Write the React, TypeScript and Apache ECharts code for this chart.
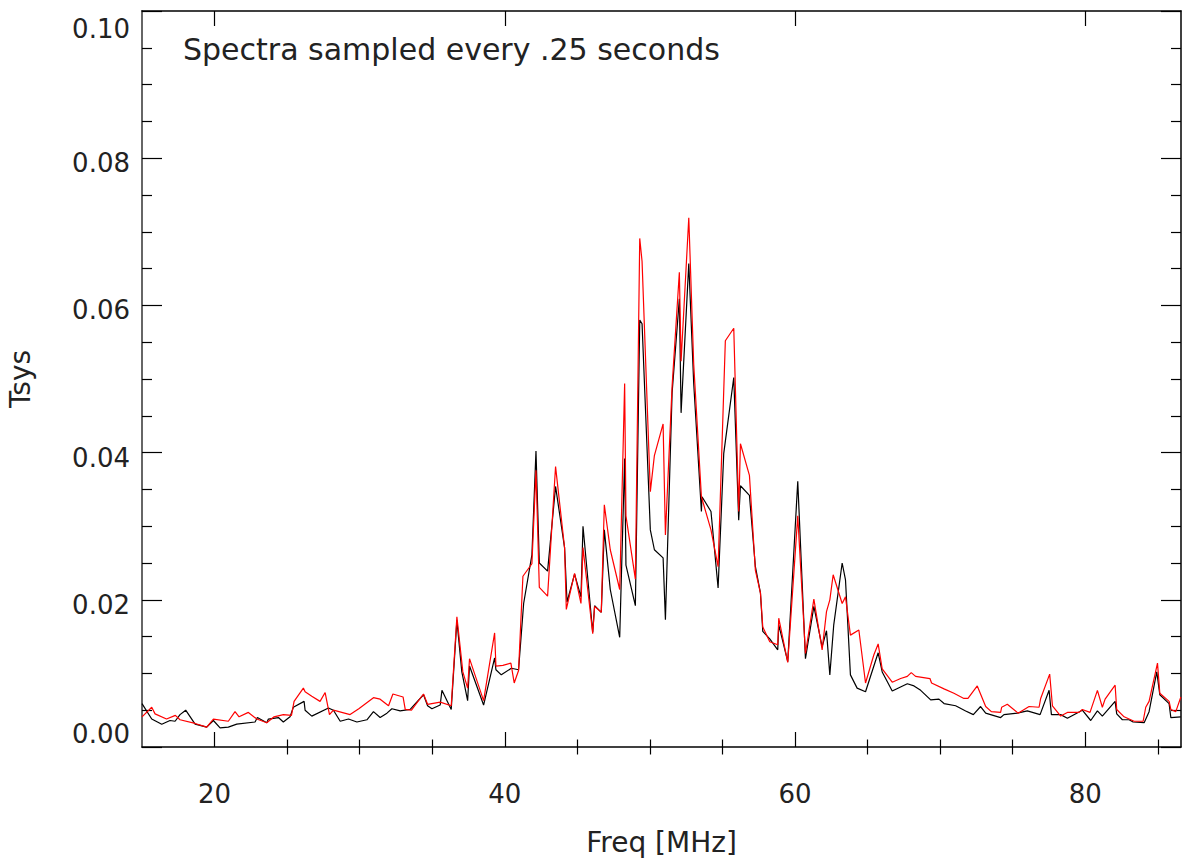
import React, { useEffect, useRef } from "react";
import * as echarts from "echarts";

const FONT = "DejaVu Sans";
const TEXT_COLOR = "#222";

const titleText = "Spectra sampled every .25 seconds";
const xName = "Freq [MHz]";
const yName = "Tsys";

const xMin = 15;
const xMax = 86.6;
const yMin = 0;
const yMax = 0.1;
const yStep = 0.02;
const xMajorTicks = [20, 40, 60, 80];
const xMinorTicks = [25, 30, 35, 45, 50, 55, 65, 70, 75, 85];

const freqBlack = [
  15.0, 15.67, 16.36, 16.93, 17.28, 17.62, 18.01, 18.66, 19.46, 19.92, 20.38, 20.95, 21.53, 22.79, 22.95,
  23.6, 23.71, 24.4, 24.74, 25.2, 25.43, 26.17, 26.24, 26.7, 27.85, 28.19, 28.66, 29.23, 29.81, 30.5,
  30.95, 31.41, 31.88, 32.22, 32.79, 33.48, 34.4, 34.68, 34.98, 35.55, 35.67, 36.31, 36.7, 37.04, 37.44,
  37.57, 38.54, 39.3, 39.39, 39.76, 40.45, 40.95, 41.3, 41.87, 42.15, 42.38, 42.95, 43.5, 44.12, 44.29,
  44.81, 45.25, 45.39, 46.06, 46.19, 46.65, 46.86, 47.27, 47.92, 48.26, 48.35, 49.0, 49.3, 49.46, 50.03,
  50.31, 50.91, 51.07, 51.53, 52.03, 52.15, 52.68, 53.02, 53.55, 53.59, 54.21, 54.7, 55.09, 55.78, 56.12,
  56.24, 56.86, 57.27, 57.62, 57.78, 58.26, 58.81, 58.88, 59.5, 60.19, 60.72, 61.3, 61.87, 62.17, 62.4,
  62.67, 63.25, 63.48, 63.82, 64.28, 64.86, 65.73, 66.01, 66.7, 67.74, 68.2, 68.66, 69.35, 69.92, 70.27,
  71.07, 71.76, 72.29, 72.79, 73.14, 73.48, 74.17, 74.4, 75.32, 76.01, 76.89, 77.51, 77.67, 78.31, 78.77,
  79.8, 80.38, 80.84, 81.18, 82.06, 82.17, 82.56, 83.02, 83.3, 84.06, 84.4, 84.93, 85.14, 85.78, 85.9,
  86.59,
];
const tsysBlack = [
  0.0059, 0.0038, 0.0031, 0.0036, 0.0035, 0.0044, 0.005, 0.0031, 0.0027, 0.0036, 0.0026, 0.0027, 0.0031, 0.0034, 0.004,
  0.0033, 0.0038, 0.004, 0.0034, 0.0041, 0.0054, 0.0062, 0.005, 0.0042, 0.0053, 0.005, 0.0035, 0.0038, 0.0034, 0.0037,
  0.0048, 0.004, 0.0046, 0.0052, 0.0049, 0.0051, 0.0071, 0.0056, 0.0052, 0.0057, 0.0077, 0.0051, 0.0172, 0.0102, 0.0063,
  0.011, 0.0057, 0.0121, 0.0105, 0.0098, 0.0107, 0.0105, 0.0195, 0.0261, 0.0402, 0.025, 0.0239, 0.0354, 0.0271, 0.0197,
  0.0235, 0.0204, 0.03, 0.0156, 0.0192, 0.0183, 0.0295, 0.0214, 0.0149, 0.0392, 0.0247, 0.0192, 0.058, 0.0575, 0.0295,
  0.0268, 0.0257, 0.0173, 0.0481, 0.0609, 0.0454, 0.0657, 0.0494, 0.032, 0.034, 0.032, 0.0216, 0.0399, 0.0502, 0.0308,
  0.0355, 0.0342, 0.0245, 0.0209, 0.0157, 0.0147, 0.0132, 0.0166, 0.0116, 0.0361, 0.012, 0.0191, 0.0136, 0.0158, 0.0098,
  0.0166, 0.025, 0.0227, 0.0098, 0.008, 0.0075, 0.0128, 0.0102, 0.0076, 0.0086, 0.0083, 0.0077, 0.0064, 0.0065, 0.0059,
  0.0056, 0.0049, 0.0044, 0.0055, 0.0046, 0.0044, 0.004, 0.0044, 0.0046, 0.0049, 0.0044, 0.0077, 0.0044, 0.0044, 0.0039,
  0.005, 0.0036, 0.0049, 0.0042, 0.0062, 0.0045, 0.0037, 0.0037, 0.0034, 0.0033, 0.0048, 0.0102, 0.0071, 0.0059, 0.004,
  0.0041,
];

const freqRed = [
  15.0, 15.67, 15.9, 16.69, 17.3, 17.62, 18.66, 19.46, 19.92, 20.95, 21.41, 21.69, 22.33, 22.91, 23.6,
  24.1, 24.74, 25.3, 25.48, 26.12, 26.24, 26.7, 27.27, 27.62, 27.92, 28.19, 29.34, 29.94, 30.95, 31.41,
  31.99, 32.29, 32.99, 33.14, 33.57, 34.4, 34.68, 35.55, 36.31, 36.7, 37.11, 37.44, 37.57, 38.54, 39.3,
  39.39, 39.87, 40.42, 40.65, 40.95, 41.25, 41.87, 42.15, 42.38, 42.95, 43.5, 44.12, 44.24, 44.81, 45.25,
  45.39, 46.06, 46.19, 46.65, 46.86, 47.27, 47.92, 48.26, 48.35, 49.0, 49.3, 49.46, 50.03, 50.31, 50.91,
  51.07, 51.53, 52.03, 52.15, 52.68, 53.02, 53.55, 54.21, 54.7, 55.09, 55.2, 55.78, 56.12, 56.24, 56.86,
  57.27, 57.62, 57.78, 58.26, 58.81, 58.88, 59.5, 60.19, 60.72, 61.3, 61.87, 62.17, 62.4, 62.63, 63.25,
  63.48, 63.82, 64.4, 64.86, 65.43, 65.73, 66.01, 66.7, 67.28, 67.74, 68.01, 68.31, 69.3, 69.41, 70.27,
  70.95, 71.64, 71.92, 72.56, 73.14, 73.53, 74.17, 74.24, 74.63, 75.37, 76.13, 76.82, 76.93, 77.55, 77.74,
  78.31, 78.77, 79.57, 79.8, 80.33, 80.84, 81.18, 81.37, 82.06, 82.17, 82.68, 83.37, 83.99, 84.17, 84.4,
  84.98, 85.14, 85.78, 85.9, 86.24, 86.59,
];
const tsysRed = [
  0.0041, 0.0054, 0.0045, 0.0038, 0.0043, 0.0037, 0.0032, 0.0027, 0.0038, 0.0035, 0.0048, 0.0041, 0.0047, 0.0038, 0.0033,
  0.0041, 0.0044, 0.0043, 0.0062, 0.008, 0.0075, 0.0069, 0.0062, 0.0074, 0.0044, 0.005, 0.0044, 0.0052, 0.0067, 0.0065,
  0.0056, 0.0072, 0.0068, 0.0051, 0.005, 0.0072, 0.0058, 0.0061, 0.0056, 0.0177, 0.0102, 0.008, 0.012, 0.0063, 0.0155,
  0.011, 0.0111, 0.0114, 0.0087, 0.0104, 0.0232, 0.0249, 0.0376, 0.0217, 0.0205, 0.0381, 0.0271, 0.0187, 0.0236, 0.0195,
  0.0271, 0.0154, 0.0191, 0.0183, 0.0329, 0.0268, 0.0214, 0.0494, 0.0314, 0.0228, 0.0691, 0.066, 0.0347, 0.0396, 0.0439,
  0.0288, 0.049, 0.0645, 0.0524, 0.0719, 0.052, 0.034, 0.0295, 0.0245, 0.0485, 0.0552, 0.0569, 0.032, 0.0412, 0.0369,
  0.024, 0.0209, 0.0163, 0.0143, 0.0139, 0.0175, 0.0115, 0.0314, 0.0127, 0.0201, 0.0132, 0.0184, 0.02, 0.0234, 0.0195,
  0.0204, 0.0152, 0.0159, 0.0087, 0.0125, 0.014, 0.0106, 0.0088, 0.0093, 0.0096, 0.0101, 0.0096, 0.0093, 0.0087, 0.0079,
  0.0073, 0.0066, 0.0066, 0.0083, 0.0055, 0.0048, 0.0047, 0.0054, 0.0058, 0.0046, 0.0055, 0.0054, 0.0066, 0.0099, 0.0056,
  0.0042, 0.0047, 0.0047, 0.0051, 0.0047, 0.0077, 0.0054, 0.0065, 0.0084, 0.0051, 0.0041, 0.0035, 0.0035, 0.0054, 0.0062,
  0.0114, 0.0073, 0.0062, 0.0051, 0.0048, 0.0068,
];

const baseX = {
  type: "value" as const,
  min: xMin,
  max: xMax,
  interval: 5,
  splitLine: { show: false },
  minorTick: { show: false },
};

const baseY = {
  type: "value" as const,
  min: yMin,
  max: yMax,
  interval: yStep,
  splitLine: { show: false },
};

const labelText = { fontFamily: FONT, fontSize: 26, color: TEXT_COLOR };

export default function App() {
  const ref = useRef<HTMLDivElement>(null);

  useEffect(() => {
    if (!ref.current) return;
    const chart = echarts.init(ref.current, null, { renderer: "svg" });
    const option: any = {
      animation: false,
      backgroundColor: "#ffffff",
      title: {
        text: titleText,
        left: 183,
        top: 34,
        padding: 0,
        textStyle: { fontFamily: FONT, fontSize: 30, fontWeight: "normal", color: TEXT_COLOR },
      },
      grid: { left: 142, right: 2, top: 11, bottom: 114, containLabel: false, outerBoundsMode: "none" },
      xAxis: [
        {
          ...baseX,
          position: "bottom",
          axisLine: { show: true, onZero: false, lineStyle: { color: "#000", width: 1.5 } },
          axisTick: {
            show: true,
            inside: true,
            length: 15,
            customValues: xMajorTicks,
            lineStyle: { color: "#000", width: 1.2 },
          },
          axisLabel: {
            show: true,
            customValues: xMajorTicks,
            ...labelText,
            margin: 34,
          },
          name: xName,
          nameLocation: "middle",
          nameGap: 81,
          nameTextStyle: { fontFamily: FONT, fontSize: 28, color: TEXT_COLOR },
        },
        {
          ...baseX,
          position: "bottom",
          axisLine: { show: false },
          axisTick: {
            show: true,
            inside: true,
            length: 7.5,
            customValues: xMinorTicks,
            lineStyle: { color: "#000", width: 1.2 },
          },
          axisLabel: { show: false },
        },
        {
          ...baseX,
          position: "top",
          axisLine: { show: true, onZero: false, lineStyle: { color: "#000", width: 1.5 } },
          axisTick: {
            show: true,
            inside: true,
            length: 15,
            customValues: xMajorTicks,
            lineStyle: { color: "#000", width: 1.2 },
          },
          axisLabel: { show: false },
        },
        {
          ...baseX,
          position: "top",
          axisLine: { show: false },
          axisTick: {
            show: true,
            inside: true,
            length: 7.5,
            customValues: xMinorTicks,
            lineStyle: { color: "#000", width: 1.2 },
          },
          axisLabel: { show: false },
        },
      ],
      yAxis: [
        {
          ...baseY,
          position: "left",
          axisLine: { show: true, onZero: false, lineStyle: { color: "#666", width: 2 } },
          axisTick: { show: true, inside: true, length: 20, lineStyle: { color: "#000", width: 1.2 } },
          minorTick: { show: true, splitNumber: 4, length: 10, lineStyle: { color: "#000", width: 1.2 } },
          axisLabel: {
            show: true,
            formatter: (v: number) => {
              const s = v.toFixed(2);
              if (Math.abs(v - yMax) < 1e-9) return "{m|" + s + "}";
              if (Math.abs(v - yMin) < 1e-9) return "{z|" + s + "}";
              return "{n|" + s + "}";
            },
            ...labelText,
            margin: 12,
            verticalAlignMaxLabel: "top",
            verticalAlignMinLabel: "bottom",
            rich: {
              n: { ...labelText, padding: [10, 0, 0, 0] },
              m: { ...labelText, padding: [5, 0, 0, 0] },
              z: { ...labelText, padding: [0, 0, 0, 0] },
            },
          },
          name: yName,
          nameLocation: "middle",
          nameGap: 108,
          nameTextStyle: { fontFamily: FONT, fontSize: 28, color: TEXT_COLOR },
        },
        {
          ...baseY,
          position: "right",
          axisLine: { show: true, onZero: false, lineStyle: { color: "#000", width: 1.5 } },
          axisTick: { show: true, inside: true, length: 20, lineStyle: { color: "#000", width: 1.2 } },
          minorTick: { show: true, splitNumber: 4, length: 10, lineStyle: { color: "#000", width: 1.2 } },
          axisLabel: { show: false },
        },
      ],
      series: [
        {
          type: "line",
          xAxisIndex: 0,
          yAxisIndex: 0,
          data: freqBlack.map((f, i) => [f, tsysBlack[i]]),
          symbol: "none",
          showSymbol: false,
          lineStyle: { color: "#000000", width: 1.2 },
          itemStyle: { color: "#000000" },
          z: 2,
        },
        {
          type: "line",
          xAxisIndex: 0,
          yAxisIndex: 0,
          data: freqRed.map((f, i) => [f, tsysRed[i]]),
          symbol: "none",
          showSymbol: false,
          lineStyle: { color: "#ff0000", width: 1.2 },
          itemStyle: { color: "#ff0000" },
          z: 3,
        },
      ],
    };
    chart.setOption(option);
    return () => chart.dispose();
  }, []);

  return (
    <div
      ref={ref}
      style={{ position: "fixed", left: 0, top: 0, width: 1183, height: 861, background: "#fff" }}
    />
  );
}
